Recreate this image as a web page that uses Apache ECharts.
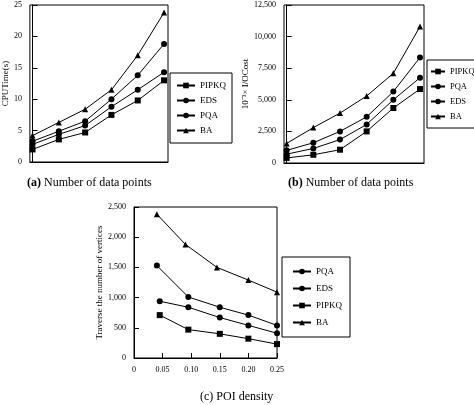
<!DOCTYPE html>
<html><head><meta charset="utf-8">
<script src="https://cdn.jsdelivr.net/npm/echarts@6/dist/echarts.min.js"></script>
<style>html,body{margin:0;background:#fff}#c{width:474px;height:405px}</style>
</head><body><div id="c"></div>
<script>
const sizeCats = ['50k','100k','500k','1M','1.5M','2M'];
const aBA    = [4.2,6.3,8.4,11.5,17.0,23.8];
const aEDS   = [3.3,4.9,6.5,10.0,13.8,18.8];
const aPQA   = [2.8,4.4,5.8,8.8,11.5,14.3];
const aPIPKQ = [2.0,3.6,4.7,7.5,9.8,13.0];
const bBA    = [1550,2800,3950,5300,7100,10800];
const bPQA   = [1000,1600,2500,3650,5650,8350];
const bEDS   = [700,1150,1850,3050,5000,6750];
const bPIPKQ = [400,650,1050,2500,4350,5850];
const cBAx = [0.04,0.09,0.145,0.2,0.25],   cBA = [2380,1880,1500,1290,1090];
const cPQAx = [0.04,0.095,0.15,0.2,0.25],  cPQA = [1530,1010,840,710,540];
const cEDSx = [0.045,0.095,0.15,0.2,0.25], cEDS = [940,840,670,540,410];
const cPIPKQx = [0.045,0.095,0.15,0.2,0.25], cPIPKQ = [710,470,400,320,230];

const F = 'Liberation Serif';
const chart = echarts.init(document.getElementById('c'));
const ax = {axisLine:{show:true,lineStyle:{color:'#000'}},axisTick:{inside:true,lineStyle:{color:'#000'}},
  axisLabel:{color:'#000',fontFamily:F,fontSize:8},splitLine:{show:false}};
const idx = v => v.map((y,i)=>[i,y]);
const pair = (x,y) => x.map((xx,i)=>[xx,y[i]]);
function s(name, data, sym, g){return {name, type:'line', xAxisIndex:g, yAxisIndex:g, data, symbol:sym, symbolSize:6,
  itemStyle:{color:'#000'}, lineStyle:{color:'#000',width:1}};}
const legBase = {orient:'vertical', itemWidth:18, itemHeight:7, itemGap:6, borderColor:'#000', borderWidth:1, padding:[8,6,8,6],
  textStyle:{fontFamily:F,fontSize:9,color:'#000'}, selectedMode:false};
const catLabel = {...ax.axisLabel, formatter:v=>sizeCats[v]??''};
chart.setOption({
  animation:false,
  grid:[
    {left:25,top:5,width:143,height:157,show:true,borderColor:'#000',borderWidth:1},
    {left:284,top:5,width:140,height:158,show:true,borderColor:'#000',borderWidth:1},
    {left:134,top:207,width:143,height:151,show:true,borderColor:'#000',borderWidth:1}
  ],
  xAxis:[
    {...ax,gridIndex:0,type:'value',min:-0.1,max:5.15,interval:1,axisLabel:catLabel,axisTick:{show:false}},
    {...ax,gridIndex:1,type:'value',min:-0.1,max:5.15,interval:1,axisLabel:catLabel,axisTick:{show:false}},
    {...ax,gridIndex:2,type:'value',min:0,max:0.25,interval:0.05,axisLabel:{...ax.axisLabel,formatter:v=>v===0?'0':(v===0.05?'0.05':v.toFixed(2))}}
  ],
  yAxis:[
    {...ax,gridIndex:0,type:'value',min:0,max:25,interval:5,name:'CPUTime(s)',nameLocation:'middle',nameGap:14,nameTextStyle:{fontFamily:F,fontSize:9,color:'#000'}},
    {...ax,gridIndex:1,type:'value',min:0,max:12500,interval:2500,name:'10⁻³× I/OCost',nameLocation:'middle',nameGap:30,nameTextStyle:{fontFamily:F,fontSize:9,color:'#000'}},
    {...ax,gridIndex:2,type:'value',min:0,max:2500,interval:500,name:'Traverse the number of vertices',nameLocation:'middle',nameGap:23,nameTextStyle:{fontFamily:F,fontSize:9,color:'#000'}}
  ],
  legend:[
    {...legBase,left:170,top:73,data:['PIPKQ','EDS','PQA','BA']},
    {...legBase,left:427,top:60,itemWidth:14,textStyle:{...legBase.textStyle,fontSize:8.5},padding:[7,3,7,3],data:['PIPKQ','PQA','EDS','BA']},
    {...legBase,left:282,top:257,itemGap:8,padding:[10,8,10,10],data:['PQA','EDS','PIPKQ','BA']}
  ],
  title:[
    {text:'{b|(a)} Number of data points',left:22,top:172,textStyle:{fontFamily:F,fontSize:12,fontWeight:'normal',color:'#000',rich:{b:{fontFamily:F,fontSize:12,fontWeight:'bold',color:'#000'}}}},
    {text:'{b|(b)} Number of data points',left:283,top:172,textStyle:{fontFamily:F,fontSize:12,fontWeight:'normal',color:'#000',rich:{b:{fontFamily:F,fontSize:12,fontWeight:'bold',color:'#000'}}}},
    {text:'(c) POI density',left:195,top:386,textStyle:{fontFamily:F,fontSize:12,fontWeight:'normal',color:'#000'}}
  ],
  series:[
    s('BA',idx(aBA),'triangle',0), s('EDS',idx(aEDS),'circle',0), s('PQA',idx(aPQA),'circle',0), s('PIPKQ',idx(aPIPKQ),'rect',0),
    s('BA',idx(bBA),'triangle',1), s('PQA',idx(bPQA),'circle',1), s('EDS',idx(bEDS),'circle',1), s('PIPKQ',idx(bPIPKQ),'rect',1),
    s('BA',pair(cBAx,cBA),'triangle',2), s('PQA',pair(cPQAx,cPQA),'circle',2), s('EDS',pair(cEDSx,cEDS),'circle',2), s('PIPKQ',pair(cPIPKQx,cPIPKQ),'rect',2)
  ]
});
</script></body></html>
